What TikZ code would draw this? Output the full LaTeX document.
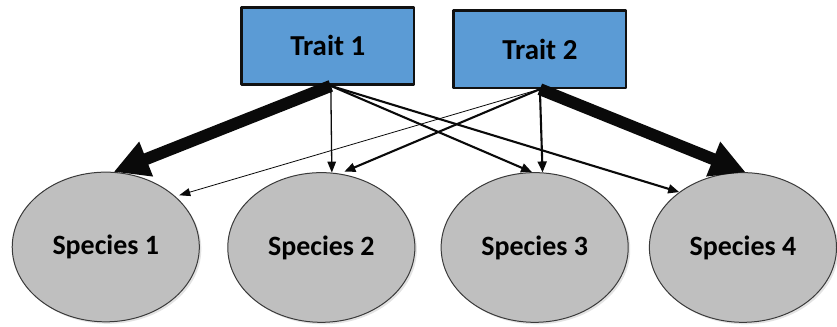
\documentclass[tikz,border=0pt]{standalone}
\usepackage{fontspec}
\setmainfont{Carlito}
\usetikzlibrary{arrows.meta,shapes.geometric,shadows}
\definecolor{traitBlue}{HTML}{5B9BD5}
\definecolor{traitEdge}{HTML}{111111}
\definecolor{speciesGrey}{HTML}{BFBFBF}
\definecolor{speciesEdge}{HTML}{3A3A3A}
\definecolor{linkInk}{HTML}{0A0A0A}

\begin{document}
\begin{tikzpicture}[x=1pt,y=-1pt,>=Latex,line cap=round,line join=round]
\path[fill=white] (0,0) rectangle (837,327);
\tikzset{traitbox/.style={draw=traitEdge,fill=traitBlue,line width=2.6pt,minimum width=173pt,minimum height=77.5pt,inner sep=0pt,font=\bfseries\fontsize{29}{30}\selectfont},speciesnode/.style={ellipse,draw=speciesEdge,fill=speciesGrey,line width=1pt,minimum width=187.5pt,minimum height=150pt,inner sep=0pt,font=\bfseries\fontsize{28}{30}\selectfont,drop shadow={opacity=0.22,shadow xshift=2pt,shadow yshift=-2pt}},heavy/.style={draw=linkInk,line width=12pt,line cap=butt,-{Triangle[length=35pt,width=35pt]}},medium/.style={draw=linkInk,line width=2.1pt,-{Triangle[length=11pt,width=9pt]}},light/.style={draw=linkInk,line width=1.3pt,-{Triangle[length=11pt,width=8.5pt]}},faint/.style={draw=linkInk,line width=0.8pt,-{Triangle[length=11pt,width=8pt]}}}
\node[traitbox] (trait1) at (328.5,46) {Trait 1};
\node[traitbox] (trait2) at (541,49.3) {Trait 2};
\node[speciesnode] (sp1) at (106,247.5) {Species 1};
\node[speciesnode] (sp2) at (322,248) {Species 2};
\node[speciesnode] (sp3) at (535.8,248) {Species 3};
\node[speciesnode] (sp4) at (744.5,248) {Species 4};
\draw[heavy] ([xshift=3pt]trait1.south) -- (sp1.84.6);
\draw[light] ([xshift=3pt]trait1.south) -- (sp2.82.8);
\draw[medium] ([xshift=3pt]trait1.south) -- (sp3.92.9);
\draw[medium] ([xshift=3pt]trait1.south) -- (sp4.139.3);
\draw[faint,shorten >=4pt] (trait2.south) -- (sp1.36.7);
\draw[medium,shorten >=5pt] (trait2.south) -- (sp2.76.2);
\draw[medium] (trait2.south) -- (sp3.84.1);
\draw[heavy] (trait2.south) -- (sp4.88.3);
\end{tikzpicture}
\end{document}
